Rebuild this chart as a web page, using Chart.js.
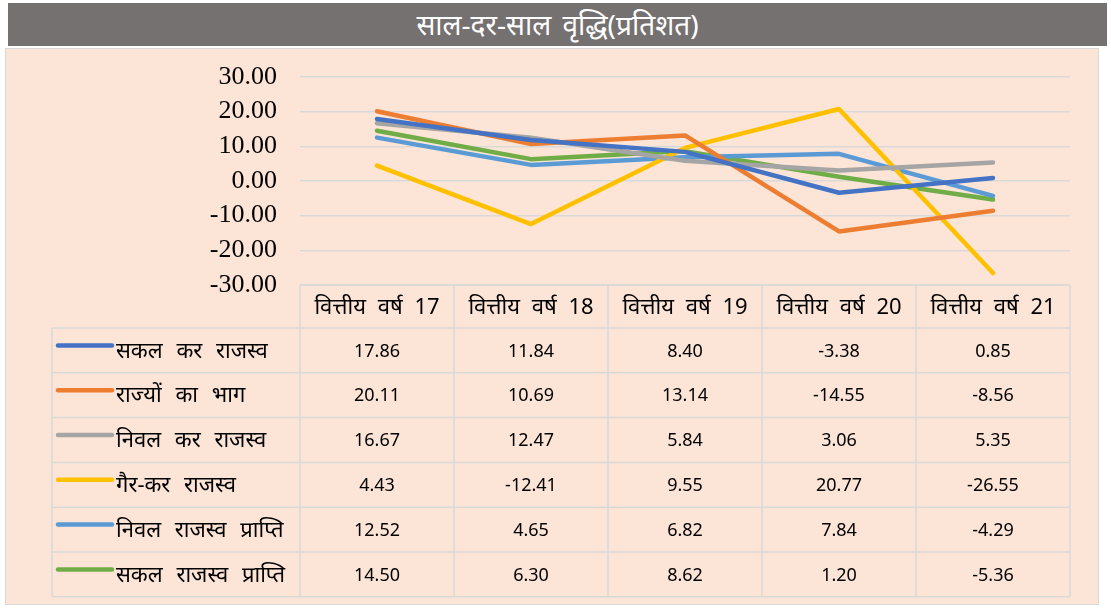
<!DOCTYPE html>
<html>
<head>
<meta charset="utf-8">
<script src="https://cdn.jsdelivr.net/npm/chart.js@4"></script>
<style>
  body{margin:0;background:#fff;width:1111px;height:610px;position:relative;overflow:hidden}
  #bar{position:absolute;left:8px;top:3px;width:1099px;height:43px;background:#767171;color:#fff;
       font:28px "Noto Sans",sans-serif;word-spacing:4px;text-align:center;line-height:43px}
  #panel{position:absolute;left:5px;top:48px;width:1092px;height:555px;background:#FCE4D6;border:1px solid #d9d9d9}
  #wrap{position:absolute;left:0;top:0;width:1111px;height:610px}
</style>
</head>
<body>
<div id="bar">साल-दर-साल वृद्धि(<i>प्रतिशत</i>)</div>
<div id="panel"></div>
<div id="wrap"><canvas id="myChart"></canvas></div>
<script>
const labels = ["वित्तीय वर्ष 17","वित्तीय वर्ष 18","वित्तीय वर्ष 19","वित्तीय वर्ष 20","वित्तीय वर्ष 21"];
const seriesNames = ["सकल कर राजस्व","राज्यों का भाग","निवल कर राजस्व","गैर-कर राजस्व","निवल राजस्व प्राप्ति","सकल राजस्व प्राप्ति"];
const grossTax = [17.86, 11.84, 8.40, -3.38, 0.85];
const statesShare = [20.11, 10.69, 13.14, -14.55, -8.56];
const netTax = [16.67, 12.47, 5.84, 3.06, 5.35];
const nonTax = [4.43, -12.41, 9.55, 20.77, -26.55];
const netReceipts = [12.52, 4.65, 6.82, 7.84, -4.29];
const grossReceipts = [14.50, 6.30, 8.62, 1.20, -5.36];
const colors = ["#4472C4","#ED7D31","#A5A5A5","#FFC000","#5B9BD5","#70AD47"];
const allSeries = [grossTax, statesShare, netTax, nonTax, netReceipts, grossReceipts];

const ctx = document.getElementById('myChart').getContext("2d");

const tablePlugin = {
  id: 'dataTable',
  afterDraw(chart) {
    const c = chart.ctx, x = chart.scales.x, area = chart.chartArea;
    const colW = (area.right - area.left) / labels.length;
    const top = area.bottom, headH = 43, rowH = 44.8;
    const legendLeft = 52;
    const bottom = top + headH + rowH * allSeries.length;
    c.save();
    c.strokeStyle = "#D9D9D9";
    c.lineWidth = 1.5;
    // grid of the data table
    c.beginPath();
    c.moveTo(area.left, top); c.lineTo(area.right, top);
    for (let r = 0; r <= allSeries.length; r++) {
      const y = top + headH + r * rowH;
      c.moveTo(legendLeft, y); c.lineTo(area.right, y);
    }
    c.moveTo(legendLeft, top + headH); c.lineTo(legendLeft, bottom);
    for (let i = 0; i <= labels.length; i++) {
      const xx = i < labels.length ? x.getPixelForValue(i) - colW / 2 : x.getPixelForValue(labels.length - 1) + colW / 2;
      c.moveTo(xx, top); c.lineTo(xx, bottom);
    }
    c.stroke();
    // header
    c.fillStyle = "#000";
    c.textAlign = "center";
    c.textBaseline = "middle";
    c.font = '22px "Noto Sans", sans-serif';
    c.wordSpacing = "6px";
    labels.forEach((l, i) => c.fillText(l, x.getPixelForValue(i), top + headH / 2 + 1));
    // rows
    allSeries.forEach((s, r) => {
      const yc = top + headH + r * rowH + rowH / 2;
      c.strokeStyle = colors[r];
      c.lineWidth = 4.5;
      c.lineCap = "round";
      c.beginPath();
      c.moveTo(58, yc - 5); c.lineTo(112, yc - 5);
      c.stroke();
      c.textAlign = "left";
      c.font = '22px "Noto Sans", sans-serif';
      c.wordSpacing = "8px";
      c.fillText(seriesNames[r], 116, yc + 1);
      c.textAlign = "center";
      c.font = '18px "Noto Sans", sans-serif';
      c.wordSpacing = "0px";
      s.forEach((v, i) => c.fillText(v.toFixed(2), x.getPixelForValue(i), yc + 1));
    });
    c.restore();
  }
};

const data = {
  labels: labels,
  datasets: allSeries.map((s, i) => ({
    label: seriesNames[i],
    data: s,
    borderColor: colors[i],
    backgroundColor: colors[i],
    borderWidth: 4.5,
    borderCapStyle: "round",
    borderJoinStyle: "round",
    pointRadius: 0,
    tension: 0
  }))
};

const config = {
  type: 'line',
  data: data,
  options: {
    responsive: true,
    maintainAspectRatio: false,
    animation: false,
    layout: { padding: { top: 77, right: 41, left: 0, bottom: 0 } },
    plugins: { legend: { display: false }, tooltip: { enabled: false } },
    scales: {
      x: {
        offset: true,
        grid: { display: false },
        border: { display: false },
        ticks: { display: false },
        afterFit(scale) { scale.height = 325; }
      },
      y: {
        min: -30, max: 30,
        border: { display: false },
        grid: { color: "#D9D9D9", lineWidth: 1.5, drawTicks: false },
        ticks: {
          stepSize: 10,
          padding: 23,
          color: "#000",
          font: { family: '"Liberation Serif", serif', size: 26 },
          callback: v => v.toFixed(2)
        },
        afterFit(scale) { scale.width = 300; }
      }
    }
  },
  plugins: [tablePlugin]
};

const myChart = new Chart(ctx, config);
</script>
</body>
</html>
